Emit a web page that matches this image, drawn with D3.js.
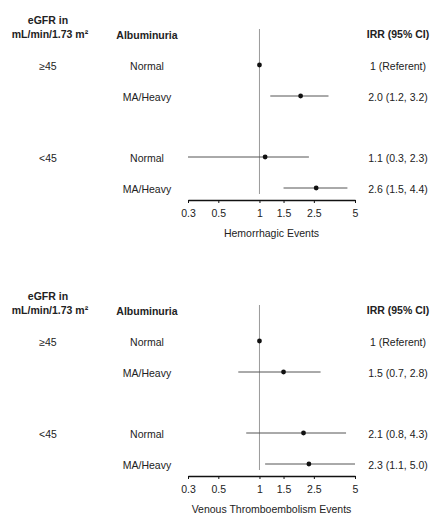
<!DOCTYPE html>
<html><head><meta charset="utf-8">
<script src="https://cdn.jsdelivr.net/npm/d3@7"></script>
<style>
html,body{margin:0;padding:0;background:#fff;}
svg text{font-family:"Liberation Sans",Arial,sans-serif;fill:#222;}
</style></head>
<body><svg id="chart" width="435" height="519"></svg>
<script>
const egfrGroups = ["\u226545", "<45"];
const albuminuria = ["Normal", "MA/Heavy", "Normal", "MA/Heavy"];
const tickValues = [0.3, 0.5, 1, 1.5, 2.5, 5];
const tickLabels = ["0.3", "0.5", "1", "1.5", "2.5", "5"];

const hemIRR = [1, 2.0, 1.1, 2.6];
const hemLow = [null, 1.2, 0.3, 1.5];
const hemHigh = [null, 3.2, 2.3, 4.4];
const hemText = ["1 (Referent)", "2.0 (1.2, 3.2)", "1.1 (0.3, 2.3)", "2.6 (1.5, 4.4)"];

const vteIRR = [1, 1.5, 2.1, 2.3];
const vteLow = [null, 0.7, 0.8, 1.1];
const vteHigh = [null, 2.8, 4.3, 5.0];
const vteText = ["1 (Referent)", "1.5 (0.7, 2.8)", "2.1 (0.8, 4.3)", "2.3 (1.1, 5.0)"];

const titles = ["Hemorrhagic Events", "Venous Thromboembolism Events"];

const svg = d3.select("#chart");
const x = d3.scaleLog().domain([0.3, 5]).range([188, 355]);
const rowY = d3.scaleOrdinal().domain([0,1,2,3]).range([65, 96, 157, 188]);

function panel(oy, irr, lo, hi, labels, title) {
  const g = svg.append("g").attr("transform", `translate(0,${oy})`);
  const fs = "10.5px";
  g.append("text").attr("x", 48).attr("y", 20).attr("text-anchor","middle")
    .attr("dominant-baseline","central").style("font-size",fs).style("font-weight","bold").text("eGFR in");
  g.append("text").attr("x", 50).attr("y", 34).attr("text-anchor","middle")
    .attr("dominant-baseline","central").style("font-size",fs).style("font-weight","bold").text("mL/min/1.73 m\u00B2");
  g.append("text").attr("x", 147).attr("y", 35).attr("text-anchor","middle")
    .attr("dominant-baseline","central").style("font-size",fs).style("font-weight","bold").text("Albuminuria");
  g.append("text").attr("x", 398).attr("y", 34).attr("text-anchor","middle")
    .attr("dominant-baseline","central").style("font-size",fs).style("font-weight","bold").text("IRR (95% CI)");
  egfrGroups.forEach((t,i) => {
    g.append("text").attr("x", 48).attr("y", rowY(i*2)+1).attr("text-anchor","middle")
      .attr("dominant-baseline","central").style("font-size",fs).text(t);
  });
  g.append("line").attr("x1", x(1)).attr("x2", x(1)).attr("y1", 29).attr("y2", 194)
    .attr("stroke","#999").attr("stroke-width",1);
  albuminuria.forEach((a,i) => {
    const y = rowY(i);
    g.append("text").attr("x", 147).attr("y", y+1).attr("text-anchor","middle")
      .attr("dominant-baseline","central").style("font-size",fs).text(a);
    if (lo[i] != null) {
      g.append("line").attr("x1", x(lo[i])).attr("x2", x(hi[i])).attr("y1", y).attr("y2", y)
        .attr("stroke","#555").attr("stroke-width",1);
    }
    g.append("circle").attr("cx", x(irr[i])).attr("cy", y).attr("r", 2.4).attr("fill","#111");
    g.append("text").attr("x", 398).attr("y", y+1).attr("text-anchor","middle")
      .attr("dominant-baseline","central").style("font-size",fs).text(labels[i]);
  });
  const ax = g.append("g").attr("transform","translate(0,200)")
    .call(d3.axisBottom(x).tickValues(tickValues).tickFormat((d,i)=>tickLabels[i]).tickSize(3).tickSizeOuter(0));
  ax.select(".domain").attr("stroke","#111").attr("stroke-width",1.6);
  ax.selectAll(".tick line").attr("stroke","#111");
  ax.selectAll(".tick text").style("font-size",fs).style("font-family","Liberation Sans, Arial, sans-serif").attr("fill","#222").attr("dy","1.0em");
  g.append("text").attr("x", (x.range()[0]+x.range()[1])/2).attr("y", 233).attr("text-anchor","middle")
    .attr("dominant-baseline","central").style("font-size",fs).text(title);
}

panel(0, hemIRR, hemLow, hemHigh, hemText, titles[0]);
panel(276, vteIRR, vteLow, vteHigh, vteText, titles[1]);
</script></body></html>
